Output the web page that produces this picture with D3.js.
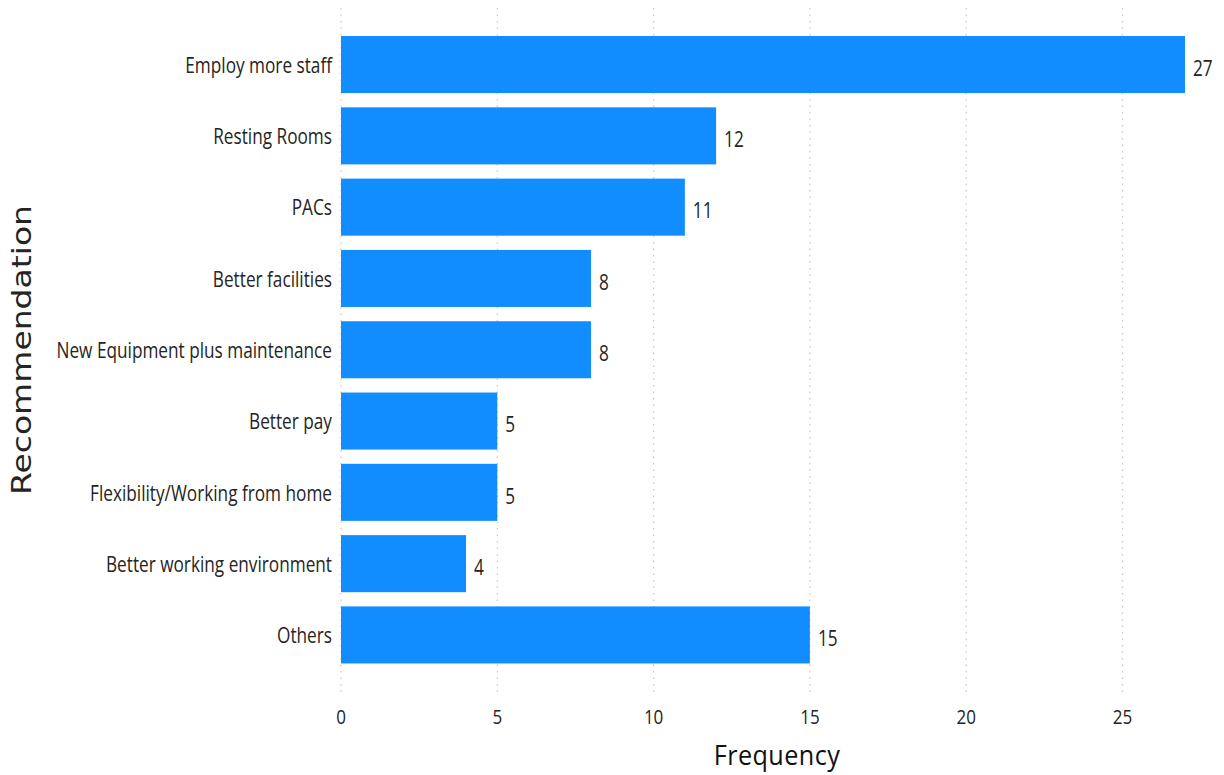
<!DOCTYPE html>
<html><head><meta charset="utf-8">
<script src="https://cdn.jsdelivr.net/npm/d3@7"></script>
<style>body{margin:0;background:#fff}svg{display:block}</style>
</head><body>
<svg id="c" width="1224" height="775"></svg>
<script>
const categories = ["Employ more staff","Resting Rooms","PACs","Better facilities","New Equipment plus maintenance","Better pay","Flexibility/Working from home","Better working environment","Others"];
const values = [27,12,11,8,8,5,5,4,15];
const xTicks = [0,5,10,15,20,25];
const xTitle = "Frequency";
const yTitle = "Recommendation";

const svg = d3.select("#c");
const font = "'Open Sans', 'Noto Sans', sans-serif";
const sx = 0.82;
const x = d3.scaleLinear().domain([0,27]).range([341,1185]);
const y = d3.scaleBand().domain(categories).range([28.9,670.6]).paddingInner(0.2).paddingOuter(0.1);

// grid
svg.append("g").selectAll("line").data(xTicks).join("line")
  .attr("x1",d=>x(d)).attr("x2",d=>x(d)).attr("y1",8).attr("y2",692)
  .attr("stroke","#c8c8c8").attr("stroke-width",1.2).attr("stroke-dasharray","1.5,5");

// bars
svg.append("g").selectAll("rect").data(values).join("rect")
  .attr("x",x(0)).attr("y",(d,i)=>y(categories[i]))
  .attr("width",d=>x(d)-x(0)).attr("height",y.bandwidth())
  .attr("fill","#118dff");

function ctext(g, px, py, txt, size, anchor, color, s){
  return g.append("text").attr("transform",`translate(${px},${py}) scale(${s||sx},1)`)
    .attr("text-anchor",anchor).attr("dominant-baseline","central")
    .style("font-family",font).style("font-size",size+"px").attr("fill",color||"#252423").text(txt);
}
// category labels
const gl = svg.append("g");
categories.forEach(c=>ctext(gl, 332, y(c)+y.bandwidth()/2, c, 21, "end"));
// value labels
const gv = svg.append("g");
values.forEach((v,i)=>ctext(gv, x(v)+8, y(categories[i])+y.bandwidth()/2+3, String(v), 21, "start"));
// x tick labels
const gt = svg.append("g");
xTicks.forEach(t=>ctext(gt, x(t), 716, String(t), 20, "middle", "#252423", 0.85));
// axis titles
svg.append("text").attr("transform",`translate(777,765) scale(0.9,1)`).attr("text-anchor","middle")
  .style("font-family",font).style("font-size","28px").style("letter-spacing","0.5px").attr("fill","#111").text(xTitle);
svg.append("text").attr("transform","translate(22,350) rotate(-90)").attr("text-anchor","middle")
  .attr("dominant-baseline","central").style("font-family","'DejaVu Sans', sans-serif").style("font-size","26px")
  .attr("textLength",290).attr("lengthAdjust","spacingAndGlyphs")
  .attr("fill","#252423").text(yTitle);
</script>
</body></html>
